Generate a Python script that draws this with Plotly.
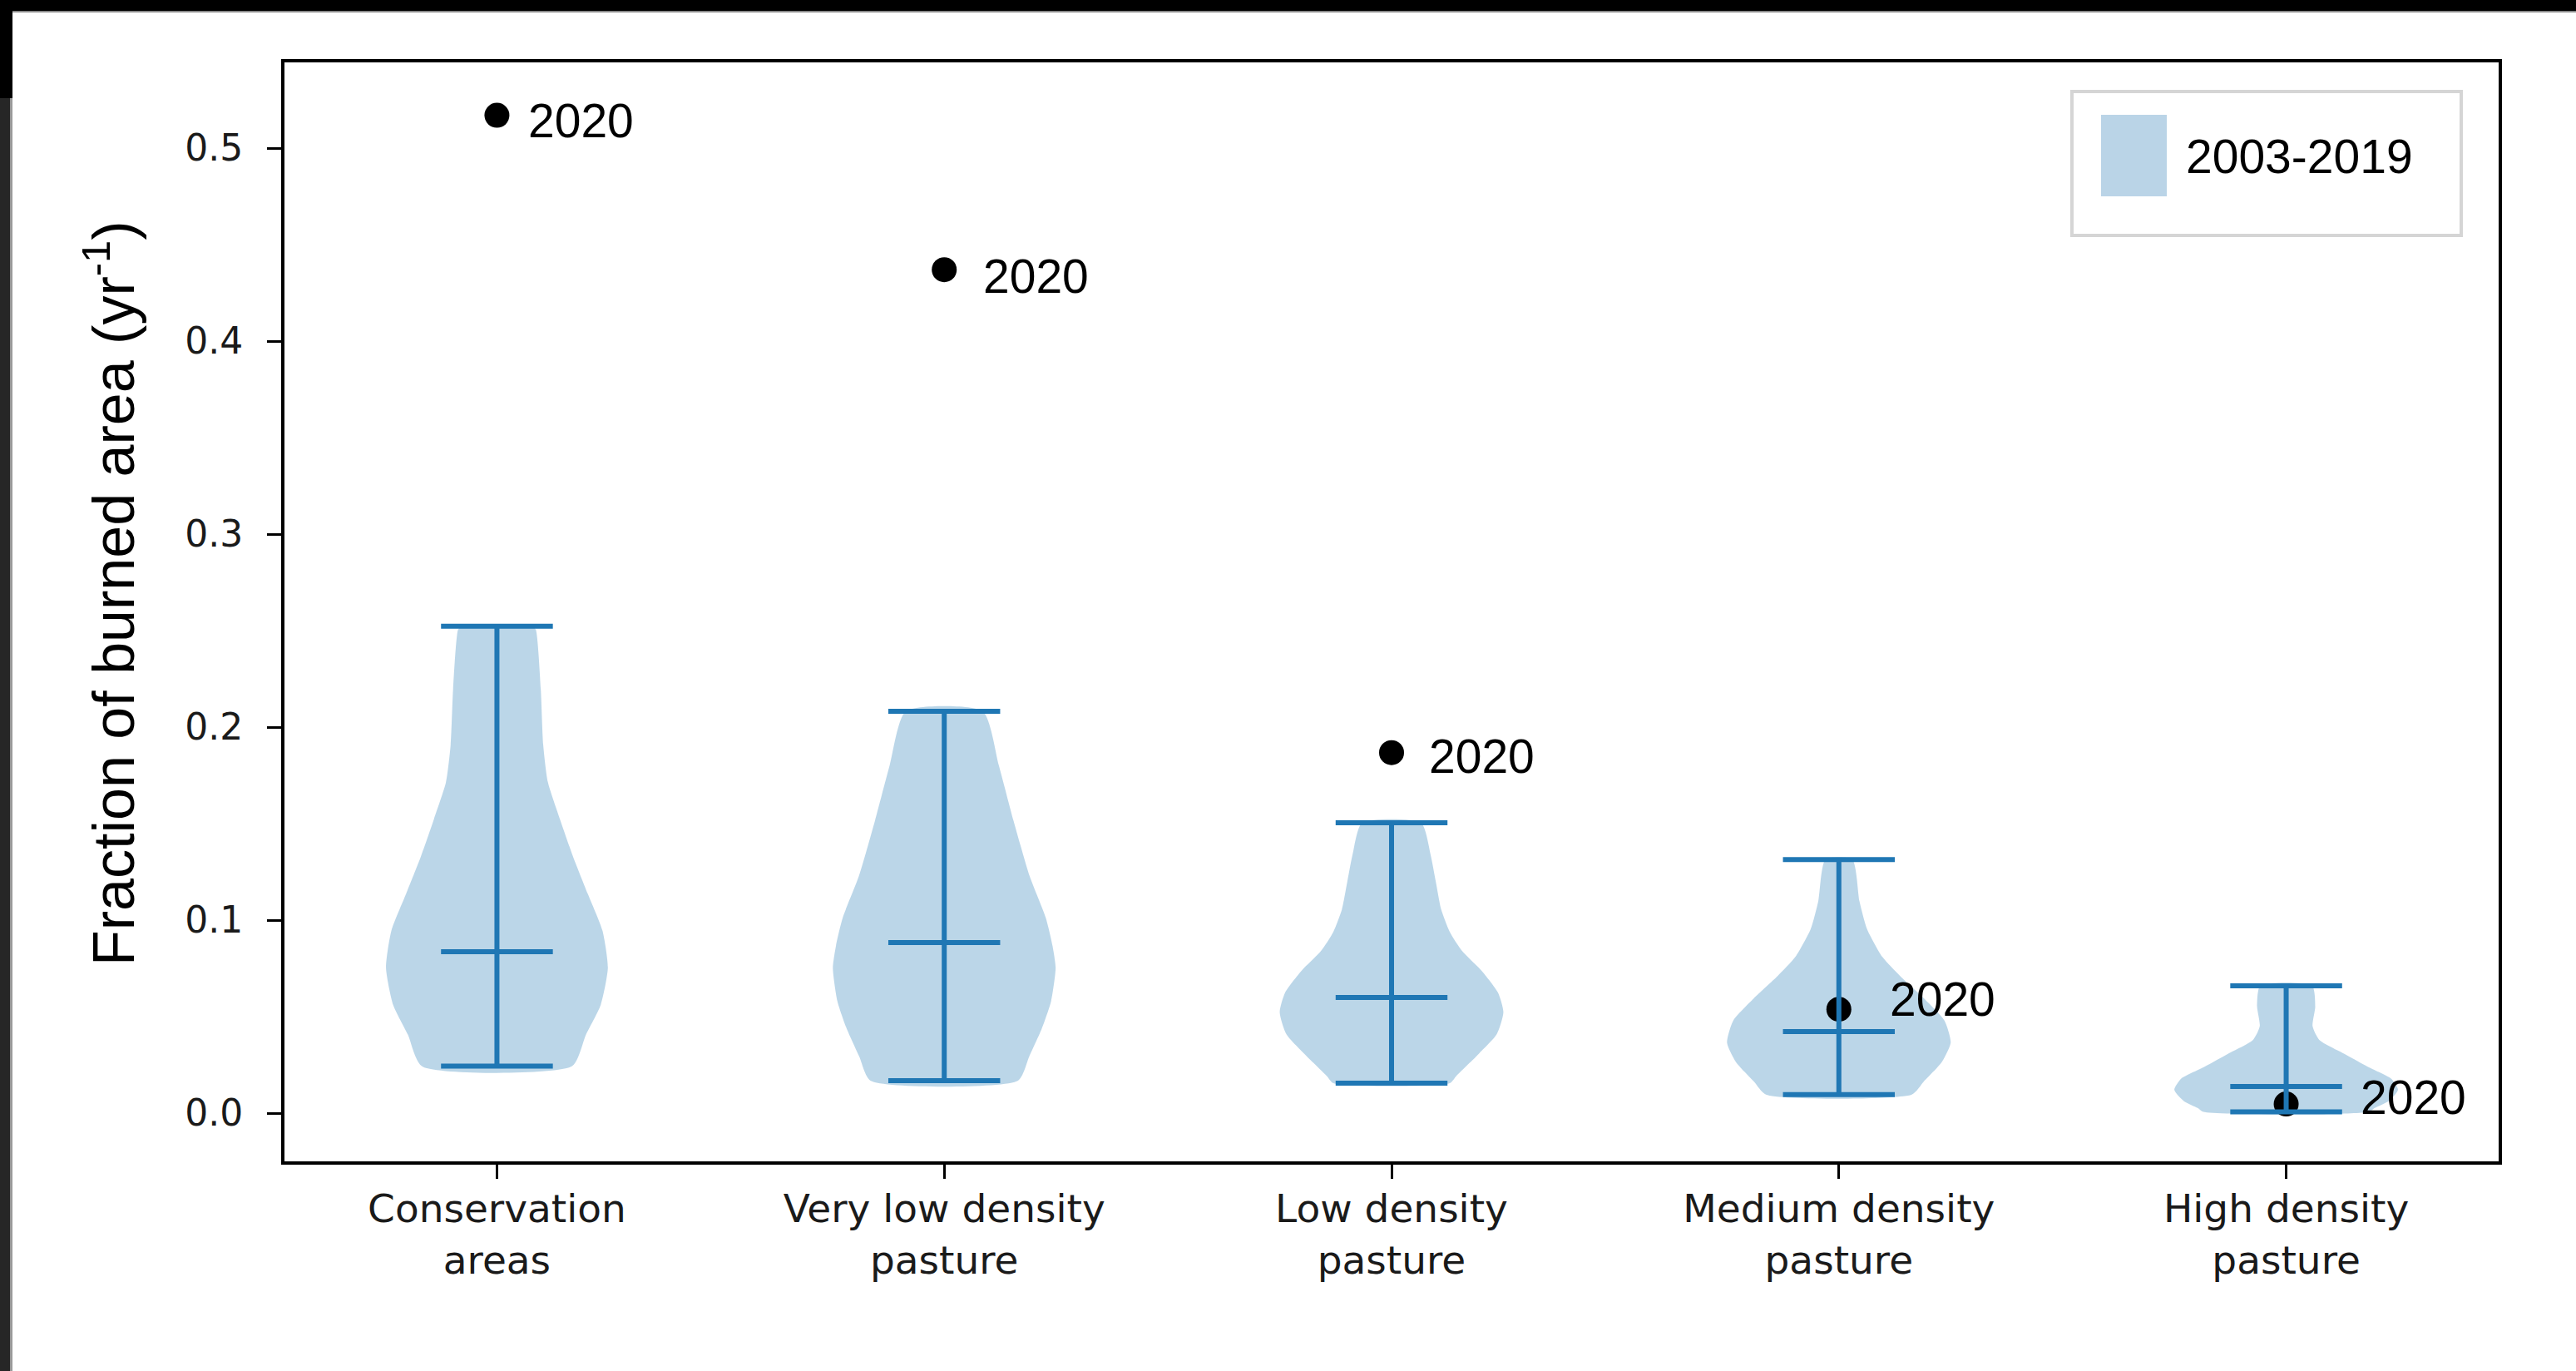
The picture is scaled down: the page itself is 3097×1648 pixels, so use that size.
import plotly.graph_objects as go

# ---------------- data ----------------
categories = ["Conservation<br>areas", "Very low density<br>pasture", "Low density<br>pasture",
              "Medium density<br>pasture", "High density<br>pasture"]
positions = [1, 2, 3, 4, 5]

# 2003-2019 summary lines (max, mean, min)
maxes = [0.2523, 0.2082, 0.1504, 0.1314, 0.0660]
means = [0.0836, 0.0884, 0.0599, 0.0422, 0.0138]
mins = [0.0243, 0.0168, 0.0155, 0.0096, 0.0006]

# 2020 values
values_2020 = [0.517, 0.437, 0.1868, 0.0538, 0.0047]
label_2020 = "2020"

# violin outlines: value levels and half-widths (x units)
cons_y = [0.0243, 0.0406, 0.0560, 0.0753, 0.0945, 0.1137, 0.1330, 0.1522, 0.1714, 0.1907, 0.2196, 0.2504, 0.2523]
cons_w = [0.168, 0.199, 0.232, 0.248, 0.236, 0.203, 0.170, 0.141, 0.114, 0.1035, 0.098, 0.087, 0.080]

vlow_y = [0.0168, 0.0293, 0.0437, 0.0581, 0.0753, 0.0868, 0.1012, 0.1227, 0.1514, 0.1802, 0.2082]
vlow_w = [0.165, 0.190, 0.218, 0.239, 0.249, 0.242, 0.227, 0.191, 0.155, 0.122, 0.086]

low_y = [0.0155, 0.0193, 0.0307, 0.0408, 0.0523, 0.0624, 0.0738, 0.0839, 0.0940, 0.1055, 0.1198, 0.1342, 0.1504]
low_w = [0.130, 0.145, 0.195, 0.235, 0.250, 0.238, 0.201, 0.158, 0.130, 0.111, 0.099, 0.087, 0.066]

med_y = [0.0096, 0.0164, 0.0264, 0.0365, 0.0480, 0.0595, 0.0710, 0.0810, 0.0954, 0.1098, 0.1314]
med_w = [0.163, 0.190, 0.230, 0.250, 0.236, 0.190, 0.137, 0.097, 0.063, 0.046, 0.030]

high_y = [0.0006, 0.0027, 0.0063, 0.0121, 0.0178, 0.0236, 0.0307, 0.0379, 0.0451, 0.0552, 0.0660]
high_w = [0.185, 0.198, 0.229, 0.250, 0.235, 0.186, 0.130, 0.074, 0.059, 0.065, 0.058]

profiles = [(cons_y, cons_w), (vlow_y, vlow_w), (low_y, low_w), (med_y, med_w), (high_y, high_w)]

legend_label = "2003-2019"
y_ticks = [0.0, 0.1, 0.2, 0.3, 0.4, 0.5]

# ---------------- style ----------------
W, H = 3097, 1648
ML, MR, MT, MB = 342, 93, 75, 252
PW, PH = W - ML - MR, H - MT - MB
BLUE = "#1f77b4"
VFILL = "rgba(31,119,180,0.3)"
TICKFONT = "DejaVu Sans"
TEXTFONT = "Liberation Sans, Arial, sans-serif"
CAP_HALF = 0.125

def px2x(px):
    return (px - ML) / PW

def py2y(py):
    return (H - MB - py) / PH

fig = go.Figure()

# violin bodies
for pos, (vy, vw) in zip(positions, profiles):
    xs = [pos + w for w in vw] + [pos - w for w in reversed(vw)] + [pos + vw[0]]
    ys = list(vy) + list(reversed(vy)) + [vy[0]]
    fig.add_trace(go.Scatter(x=xs, y=ys, mode="lines", fill="toself", fillcolor=VFILL,
                             line=dict(width=0, shape="spline", smoothing=0.6),
                             hoverinfo="skip", showlegend=False))

# 2020 points
fig.add_trace(go.Scatter(x=positions, y=values_2020, mode="markers",
                         marker=dict(color="black", size=30), showlegend=False))

# summary lines (caps, means, vertical bars)
lx, ly = [], []
for pos, mx, mn, me in zip(positions, maxes, mins, means):
    for v in (mx, mn, me):
        lx += [pos - CAP_HALF, pos + CAP_HALF, None]
        ly += [v, v, None]
    lx += [pos, pos, None]
    ly += [mn, mx, None]
fig.add_trace(go.Scatter(x=lx, y=ly, mode="lines", line=dict(color=BLUE, width=6),
                         hoverinfo="skip", showlegend=False))

# 2020 labels
label_dx = [36, 45, 43, 59, 87]
label_dy = [-6, -8, -4, 12, 8]
for pos, v, dx, dy in zip(positions, values_2020, label_dx, label_dy):
    fig.add_annotation(x=pos, y=v, xref="x", yref="y", text=label_2020, showarrow=False,
                       xanchor="left", yanchor="middle", xshift=dx, yshift=dy,
                       font=dict(family=TEXTFONT, size=57, color="black"))

# y-axis title
fig.add_annotation(x=px2x(132), y=py2y(713), xref="paper", yref="paper",
                   text="Fraction of burned area (yr<sup>-1</sup>)", textangle=-90,
                   showarrow=False, xanchor="center", yanchor="middle",
                   font=dict(family=TEXTFONT, size=70, color="black"))

# legend (box, swatch, label)
fig.add_shape(type="rect", xref="paper", yref="paper",
              x0=px2x(2491), x1=px2x(2959), y0=py2y(283), y1=py2y(110),
              line=dict(color="#d5d5d5", width=4), fillcolor="white", layer="above")
fig.add_shape(type="rect", xref="paper", yref="paper",
              x0=px2x(2526), x1=px2x(2605), y0=py2y(236), y1=py2y(138),
              line=dict(width=0), fillcolor="#bad4e7", layer="above")
fig.add_annotation(x=px2x(2626), y=py2y(188), xref="paper", yref="paper", text=legend_label,
                   showarrow=False, xanchor="left", yanchor="middle",
                   font=dict(family=TEXTFONT, size=57, color="black"))

# screenshot frame (dark bands on top and left)
fig.add_shape(type="rect", xref="paper", yref="paper", x0=px2x(0), x1=px2x(W),
              y0=py2y(13), y1=py2y(-5), line=dict(width=0), fillcolor="black", layer="above")
fig.add_shape(type="rect", xref="paper", yref="paper", x0=px2x(0), x1=px2x(W),
              y0=py2y(15), y1=py2y(13), line=dict(width=0), fillcolor="#8a8a8a", layer="above")
fig.add_shape(type="rect", xref="paper", yref="paper", x0=px2x(-5), x1=px2x(15),
              y0=py2y(118), y1=py2y(0), line=dict(width=0), fillcolor="black", layer="above")
fig.add_shape(type="rect", xref="paper", yref="paper", x0=px2x(-5), x1=px2x(12),
              y0=py2y(H + 5), y1=py2y(118), line=dict(width=0), fillcolor="#262626", layer="above")
fig.add_shape(type="rect", xref="paper", yref="paper", x0=px2x(12), x1=px2x(15),
              y0=py2y(H + 5), y1=py2y(118), line=dict(width=0), fillcolor="#9a9a9a", layer="above")

fig.update_layout(
    width=W, height=H,
    margin=dict(l=ML, r=MR, t=MT, b=MB, autoexpand=False),
    paper_bgcolor="white", plot_bgcolor="white",
    showlegend=False,
    xaxis=dict(range=[0.525, 5.475], tickmode="array", tickvals=positions, ticktext=categories,
               showgrid=False, zeroline=False, showline=True, mirror=True,
               linecolor="black", linewidth=4, ticks="outside", ticklen=17, tickwidth=3,
               tickcolor="black", tickfont=dict(family=TICKFONT, size=47, color="#1a1a1a"),
               ticklabelstandoff=-4),
    yaxis=dict(range=[-0.025, 0.5444], tickmode="array", tickvals=y_ticks,
               ticktext=[f"{t:.1f}" for t in y_ticks],
               showgrid=False, zeroline=False, showline=True, mirror=True,
               linecolor="black", linewidth=4, ticks="outside", ticklen=17, tickwidth=3,
               tickcolor="black", tickfont=dict(family=TICKFONT, size=44, color="#1a1a1a"),
               ticklabelstandoff=20),
)

fig.write_html("out.html", config={"displayModeBar": False},
               post_script="document.body.style.margin='0';document.body.style.padding='0';")
